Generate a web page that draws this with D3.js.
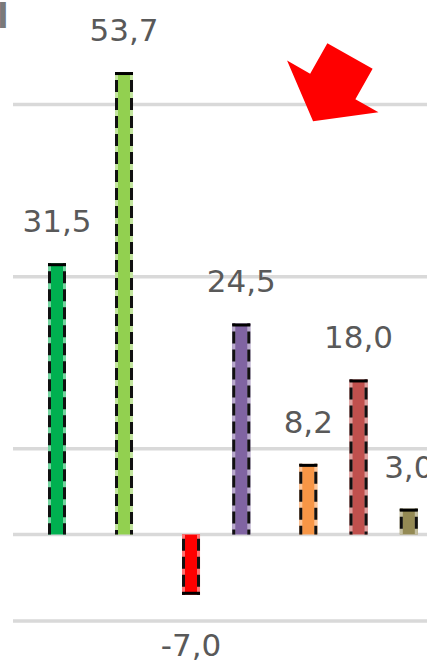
<!DOCTYPE html>
<html>
<head>
<meta charset="utf-8">
<script src="https://cdn.jsdelivr.net/npm/d3@7"></script>
<style>
  html, body { margin: 0; padding: 0; background: #ffffff; }
  svg { display: block; }
</style>
</head>
<body>
<svg id="chart" width="427" height="665"></svg>
<script>
// Series: one column each, placed on a slot grid of the clustered layout
const seriesNames = ["S1", "S2", "S3", "S4", "S5", "S6", "S7"];
const seriesValues = [31.5, 53.7, -7.0, 24.5, 8.2, 18.0, 3.0];
const seriesSlots = [0, 4, 8, 11, 15, 18, 21];
const seriesColors = ["#00B050", "#92D050", "#FF0000", "#8064A2", "#F79646", "#C0504D", "#948A54"];
const gridTicks = [-10, 10, 30, 50];

const svg = d3.select("#chart");

const y = d3.scaleLinear().domain([-10, 50]).range([620.6, 103.9]);
const x = d3.scaleLinear().domain([0, 21]).range([57, 408.8]);

const plotLeft = 13, plotRight = 427;
const barW = 18;
const fmt = v => d3.format(".1f")(v).replace(".", ",").replace("−", "-");

// Horizontal gridlines
const yAxis = d3.axisLeft(y).tickValues(gridTicks).tickSize(-(plotRight - plotLeft)).tickFormat("");
const gAxis = svg.append("g").attr("transform", `translate(${plotLeft},0)`).call(yAxis);
gAxis.select(".domain").remove();
gAxis.selectAll(".tick line").attr("stroke", "#D9D9D9").attr("stroke-width", 3.5);

// Zero (category axis) line
svg.append("line")
  .attr("x1", plotLeft).attr("x2", plotRight)
  .attr("y1", y(0)).attr("y2", y(0))
  .attr("stroke", "#D9D9D9").attr("stroke-width", 3.5);

// Cut-off title glyph at the top left corner
svg.append("text")
  .attr("x", -3).attr("y", 28)
  .attr("font-family", "DejaVu Sans").attr("font-weight", "bold")
  .attr("font-size", 34).attr("fill", "#7a7a7a")
  .text("l");

const data = seriesNames.map((n, i) => ({
  name: n, value: seriesValues[i], slot: seriesSlots[i], color: seriesColors[i]
}));

const bars = svg.append("g").selectAll("g.bar").data(data).join("g").attr("class", "bar");

// Fill
bars.append("rect")
  .attr("x", d => x(d.slot) - barW / 2)
  .attr("width", barW)
  .attr("y", d => Math.min(y(d.value), y(0)))
  .attr("height", d => Math.abs(y(d.value) - y(0)))
  .attr("fill", d => d.color);

// Light edge under the dashed outline
[-1, 1].forEach(side => {
  bars.append("line")
    .attr("x1", d => x(d.slot) + side * (barW / 2 - 1.5))
    .attr("x2", d => x(d.slot) + side * (barW / 2 - 1.5))
    .attr("y1", d => y(d.value))
    .attr("y2", y(0))
    .attr("stroke", d => d3.interpolateRgb(d.color, "#ffffff")(0.45))
    .attr("stroke-width", 3);
  bars.append("line")
    .attr("x1", d => x(d.slot) + side * (barW / 2 - 1.5))
    .attr("x2", d => x(d.slot) + side * (barW / 2 - 1.5))
    .attr("y1", d => y(d.value))
    .attr("y2", y(0))
    .attr("stroke", "#111111")
    .attr("stroke-width", 3)
    .attr("stroke-dasharray", "12,6")
    .attr("stroke-dashoffset", -8);
});

// Solid cap at the outer end of each column
bars.append("line")
  .attr("x1", d => x(d.slot) - barW / 2)
  .attr("x2", d => x(d.slot) + barW / 2)
  .attr("y1", d => y(d.value) + (d.value >= 0 ? 1.5 : -1.5))
  .attr("y2", d => y(d.value) + (d.value >= 0 ? 1.5 : -1.5))
  .attr("stroke", "#000000")
  .attr("stroke-width", 3);

// Value labels
bars.append("text")
  .attr("x", d => x(d.slot))
  .attr("y", d => d.value >= 0 ? y(d.value) - 31 : y(d.value) + 61)
  .attr("text-anchor", "middle")
  .attr("font-family", "DejaVu Sans")
  .attr("font-size", 31)
  .attr("fill", "#595959")
  .text(d => fmt(d.value));

// Red block arrow callout pointing down-left
const arrowLen = 75, shaftLen = 35, shaftHalf = 26, headHalf = 52.5;
const arrowPts = [
  [0, -shaftHalf], [shaftLen, -shaftHalf], [shaftLen, -headHalf], [arrowLen, 0],
  [shaftLen, headHalf], [shaftLen, shaftHalf], [0, shaftHalf]
];
svg.append("path")
  .attr("d", d3.line()(arrowPts) + "Z")
  .attr("transform", "translate(350,56) rotate(119.5)")
  .attr("fill", "#FF0000");
</script>
</body>
</html>
